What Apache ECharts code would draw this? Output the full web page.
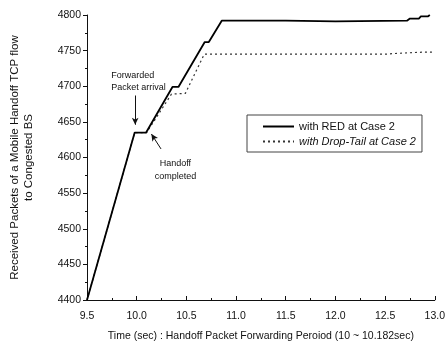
<!DOCTYPE html>
<html>
<head>
<meta charset="utf-8">
<script src="https://cdn.jsdelivr.net/npm/echarts@6/dist/echarts.min.js"></script>
<style>
  html, body { margin: 0; padding: 0; background: #fff; }
  #chart { width: 448px; height: 347px; }
</style>
</head>
<body>
<div id="chart"></div>
<script>
// Received packets vs. time for the mobile handoff TCP flow
const redTime = [9.5, 9.98, 10.095, 10.36, 10.42, 10.685, 10.726, 10.856, 11.5, 12.0, 12.72, 12.75, 12.84, 12.86, 12.93, 12.95];
const redPkts = [4400, 4635, 4635, 4699, 4699, 4762, 4762, 4792, 4792, 4791, 4792, 4795, 4795, 4798, 4798, 4800];

const dropTime = [9.5, 9.98, 10.1, 10.35, 10.49, 10.68, 12.5, 12.6, 12.9, 13.0];
const dropPkts = [4400, 4635, 4635, 4689, 4690, 4745, 4745, 4746, 4748, 4748];

const seriesNames = ['with RED at Case 2', 'with Drop-Tail at Case 2'];
const xTitle = 'Time (sec) : Handoff Packet Forwarding Peroiod (10 ~ 10.182sec)';
const yTitle = 'Received Packets of a Mobile Handoff TCP flow\nto Congested BS';

const FONT = '"Liberation Sans", Arial, sans-serif';

const pairs = (xs, ys) => xs.map((x, i) => [x, ys[i]]);

const chart = echarts.init(document.getElementById('chart'), null, { renderer: 'canvas' });

chart.setOption({
  animation: false,
  backgroundColor: '#fff',
  grid: { left: 77, right: 10, top: 15, bottom: 47, containLabel: false },
  legend: {
    show: true,
    orient: 'vertical',
    left: 247,
    top: 115,
    padding: [6, 6, 5, 15],
    itemWidth: 31,
    itemHeight: 10,
    itemGap: 4,
    borderColor: '#444',
    borderWidth: 1,
    itemStyle: { opacity: 0 },
    textStyle: { fontFamily: FONT, fontSize: 11, color: '#111' },
    data: [
      { name: seriesNames[0] },
      { name: seriesNames[1], textStyle: { fontStyle: 'italic' } }
    ]
  },
  xAxis: {
    type: 'value',
    min: 9.5, max: 13.0, interval: 0.5,
    name: xTitle,
    nameLocation: 'middle',
    nameGap: 31,
    nameTextStyle: { fontFamily: FONT, fontSize: 10.5, color: '#111' },
    axisLine: { lineStyle: { color: '#111', width: 1 } },
    axisTick: { inside: true, length: 4, lineStyle: { color: '#111' } },
    minorTick: { show: true, splitNumber: 2, length: 2, lineStyle: { color: '#111' } },
    axisLabel: { fontFamily: FONT, fontSize: 10.5, color: '#111', margin: 11, formatter: v => v.toFixed(1) },
    splitLine: { show: false }
  },
  yAxis: {
    type: 'value',
    min: 4400, max: 4800, interval: 50,
    name: yTitle,
    nameLocation: 'middle',
    nameGap: 51,
    nameRotate: 90,
    nameTextStyle: { fontFamily: FONT, fontSize: 11.5, color: '#111', lineHeight: 14, align: 'center' },
    axisLine: { show: true, lineStyle: { color: '#111', width: 1 } },
    axisTick: { show: true, inside: false, length: 4, lineStyle: { color: '#111' } },
    minorTick: { show: true, splitNumber: 2, length: 2, lineStyle: { color: '#111' } },
    axisLabel: { fontFamily: FONT, fontSize: 10.5, color: '#111', margin: 6, formatter: v => String(v) },
    splitLine: { show: false }
  },
  series: [
    {
      name: seriesNames[0],
      type: 'line',
      data: pairs(redTime, redPkts),
      symbol: 'none',
      lineStyle: { color: '#000', width: 1.8 },
      itemStyle: { color: '#000' },
      z: 3,
      markLine: {
        silent: true,
        symbol: ['none', 'arrow'],
        symbolSize: [5, 7],
        label: { show: false },
        lineStyle: { color: '#111', width: 1, type: 'solid' },
        data: [
          [{ coord: [9.985, 4687] }, { coord: [9.985, 4646] }],
          [{ coord: [10.245, 4612] }, { coord: [10.148, 4633] }]
        ]
      }
    },
    {
      name: seriesNames[1],
      type: 'line',
      data: pairs(dropTime, dropPkts),
      symbol: 'none',
      lineStyle: { color: '#333', width: 1.2, type: [2, 3] },
      itemStyle: { color: '#333' },
      z: 2
    }
  ]
});

// Annotation text placed in data space
function note(text, x, y, align, lh) {
  const p = chart.convertToPixel({ gridIndex: 0 }, [x, y]);
  return {
    type: 'text',
    x: p[0], y: p[1],
    style: {
      text: text,
      font: '9px ' + FONT,
      fill: '#111',
      align: align,
      verticalAlign: 'middle',
      lineHeight: lh
    }
  };
}

chart.setOption({
  graphic: [
    note('Forwarded\nPacket arrival', 9.745, 4707, 'left', 12),
    note('Handoff\ncompleted', 10.39, 4583, 'center', 13)
  ]
});
</script>
</body>
</html>
